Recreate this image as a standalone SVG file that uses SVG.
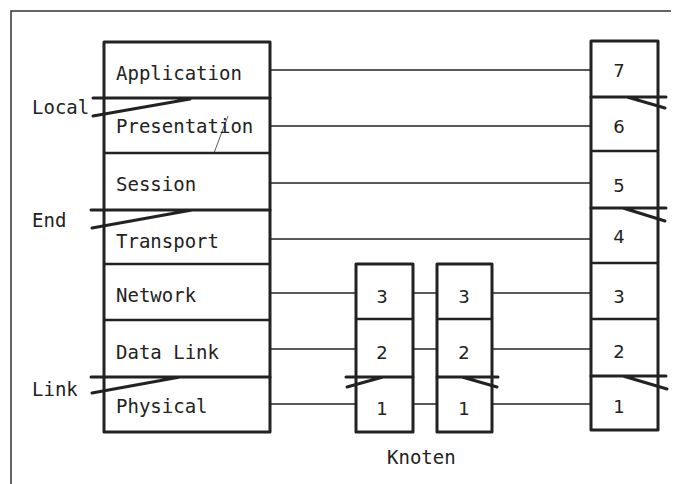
<svg xmlns="http://www.w3.org/2000/svg" width="673" height="484" viewBox="0 0 673 484">
<style>
.box{fill:none;stroke:#222;stroke-width:3;stroke-linejoin:round}
.div{stroke:#222;stroke-width:2.5;fill:none}
.brk{stroke:#222;stroke-width:3;fill:none;stroke-linecap:round}
.conn{stroke:#222;stroke-width:1.5;fill:none}
.frame{stroke:#333;stroke-width:1.5;fill:none}
text{font-family:"DejaVu Sans Mono","Liberation Mono",monospace;font-size:19px;fill:#222}
.num{font-family:"DejaVu Sans","Liberation Sans",sans-serif;font-size:18px;text-anchor:middle}
</style>
<rect width="673" height="484" fill="#fff"/>
<path class="frame" d="M11,484 V11 H671"/>

<g id="connectors">
<line class="conn" x1="270" y1="70" x2="591" y2="70"/>
<line class="conn" x1="270" y1="126" x2="591" y2="126"/>
<line class="conn" x1="270" y1="183" x2="591" y2="183"/>
<line class="conn" x1="270" y1="239" x2="591" y2="239"/>
<line class="conn" x1="270" y1="293" x2="356" y2="293"/>
<line class="conn" x1="413" y1="293" x2="437" y2="293"/>
<line class="conn" x1="492" y1="293" x2="591" y2="293"/>
<line class="conn" x1="270" y1="349" x2="356" y2="349"/>
<line class="conn" x1="413" y1="349" x2="437" y2="349"/>
<line class="conn" x1="492" y1="349" x2="591" y2="349"/>
<line class="conn" x1="270" y1="404" x2="356" y2="404"/>
<line class="conn" x1="413" y1="404" x2="437" y2="404"/>
<line class="conn" x1="492" y1="404" x2="591" y2="404"/>
</g>

<g id="left-stack">
<rect class="box" x="104" y="42" width="166" height="390"/>
<line class="div" x1="104" y1="153" x2="270" y2="153"/>
<line class="div" x1="104" y1="264" x2="270" y2="264"/>
<line class="div" x1="104" y1="320" x2="270" y2="320"/>
<path class="brk" d="M93,98 H270 M93,116 L190,99"/>
<path class="brk" d="M91,210 H270 M92,228 L192,210"/>
<path class="brk" d="M91,377 H270 M92,393 L180,377"/>
<line x1="228" y1="116" x2="214" y2="153" stroke="#333" stroke-width="0.8"/>
<text x="116" y="80">Application</text>
<text x="116" y="133">Presentation</text>
<text x="116" y="191">Session</text>
<text x="116" y="248">Transport</text>
<text x="116" y="302">Network</text>
<text x="116" y="359">Data Link</text>
<text x="116" y="413">Physical</text>
</g>

<g id="labels">
<text x="32" y="114">Local</text>
<text x="32" y="227">End</text>
<text x="32" y="396">Link</text>
<text x="387" y="464">Knoten</text>
</g>

<g id="node1">
<rect class="box" x="356" y="264" width="57" height="168"/>
<line class="div" x1="356" y1="319" x2="413" y2="319"/>
<path class="brk" d="M346,377 H413 M347,387 L383,377"/>
<text class="num" x="382" y="303">3</text>
<text class="num" x="382" y="359">2</text>
<text class="num" x="382" y="415">1</text>
</g>

<g id="node2">
<rect class="box" x="437" y="264" width="55" height="168"/>
<line class="div" x1="437" y1="319" x2="492" y2="319"/>
<path class="brk" d="M437,377 H498 M462,377 L497,387"/>
<text class="num" x="464" y="303">3</text>
<text class="num" x="464" y="359">2</text>
<text class="num" x="464" y="415">1</text>
</g>

<g id="right-stack">
<rect class="box" x="591" y="41" width="67" height="389"/>
<line class="div" x1="591" y1="151" x2="658" y2="151"/>
<line class="div" x1="591" y1="263" x2="658" y2="263"/>
<line class="div" x1="591" y1="319" x2="658" y2="319"/>
<path class="brk" d="M591,97 H666 M627,97 L665,108"/>
<path class="brk" d="M591,208 H666 M623,208 L665,221"/>
<path class="brk" d="M591,376 H666 M623,376 L667,389"/>
<text class="num" x="619" y="77">7</text>
<text class="num" x="619" y="133">6</text>
<text class="num" x="619" y="192">5</text>
<text class="num" x="619" y="243">4</text>
<text class="num" x="619" y="303">3</text>
<text class="num" x="619" y="358">2</text>
<text class="num" x="619" y="413">1</text>
</g>
</svg>
